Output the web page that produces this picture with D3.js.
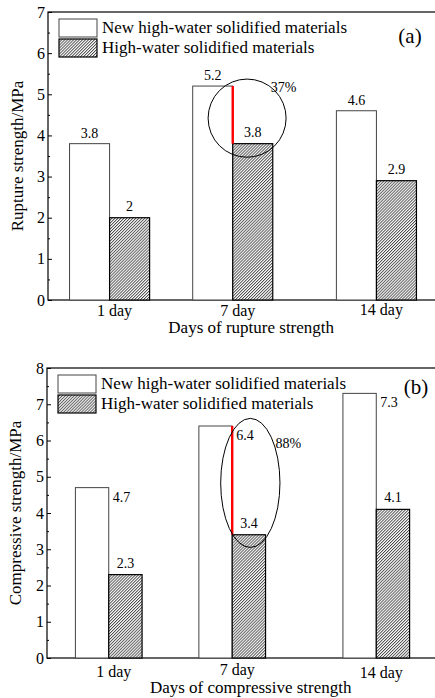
<!DOCTYPE html>
<html>
<head>
<meta charset="utf-8">
<script src="https://cdn.jsdelivr.net/npm/d3@7"></script>
<style>
  body { margin: 0; background: #fff; }
  svg { display: block; font-family: "Liberation Serif", "Times New Roman", serif; }
</style>
</head>
<body>
<svg id="chart" width="435" height="698"></svg>
<script>
// data
const days = [1, 7, 14];
const dayLabels = ["1 day", "7 day", "14 day"];
const seriesNames = ["New high-water solidified materials", "High-water solidified materials"];

const ruptureNew = [3.8, 5.2, 4.6];
const ruptureOld = [2, 3.8, 2.9];
const ruptureTicks = [0, 1, 2, 3, 4, 5, 6, 7];

const compressNew = [4.7, 6.4, 7.3];
const compressOld = [2.3, 3.4, 4.1];
const compressTicks = [0, 1, 2, 3, 4, 5, 6, 7, 8];

const gains = ["37%", "88%"];

const svg = d3.select("#chart");

// hatch pattern
const defs = svg.append("defs");
defs.append("pattern")
  .attr("id", "hatch")
  .attr("patternUnits", "userSpaceOnUse")
  .attr("width", 2.1)
  .attr("height", 10)
  .attr("patternTransform", "rotate(45)")
  .call(p => {
    p.append("rect").attr("width", 2.1).attr("height", 10).attr("fill", "#fff");
    p.append("line").attr("x1", 0.5).attr("x2", 0.5).attr("y1", 0).attr("y2", 10)
      .attr("stroke", "#222").attr("stroke-width", 0.75);
  });

function panel(opt) {
  const x = d3.scaleLinear().domain([-2, 17]).range([opt.left, 438]);
  const y = d3.scaleLinear().domain([0, opt.ymax]).range([opt.bottom, opt.top]);
  const g = svg.append("g");

  // frame
  g.append("rect")
    .attr("x", x(-2)).attr("y", y(opt.ymax))
    .attr("width", x(17) - x(-2)).attr("height", y(0) - y(opt.ymax))
    .attr("fill", "none").attr("stroke", "#000").attr("stroke-width", 1.2);

  // bars
  const bw = opt.barDays;
  g.selectAll(".newbar").data(days).join("rect")
    .attr("x", d => x(d - bw))
    .attr("y", (d, i) => y(opt.newVals[i]))
    .attr("width", x(bw) - x(0))
    .attr("height", (d, i) => y(0) - y(opt.newVals[i]))
    .attr("fill", "#fff").attr("stroke", "#444").attr("stroke-width", 1);
  g.selectAll(".oldbar").data(days).join("rect")
    .attr("x", d => x(d))
    .attr("y", (d, i) => y(opt.oldVals[i]))
    .attr("width", x(bw) - x(0))
    .attr("height", (d, i) => y(0) - y(opt.oldVals[i]))
    .attr("fill", "url(#hatch)").attr("stroke", "#000").attr("stroke-width", 1.2);

  // y axis
  g.append("g")
    .attr("transform", `translate(${x(-2)},0)`)
    .call(d3.axisLeft(y).tickValues(opt.ticks).tickSize(-4).tickPadding(3).tickFormat(d3.format("d")))
    .call(a => a.select(".domain").remove())
    .call(a => a.selectAll("text").attr("font-size", 16).attr("font-family", "Liberation Serif").attr("fill", "#000"));
  g.append("g")
    .attr("transform", `translate(${x(-2)},0)`)
    .call(d3.axisLeft(y).tickValues(opt.ticks.slice(1).map(t => t - 0.5)).tickSize(-2).tickFormat(""))
    .call(a => a.select(".domain").remove());

  // x labels
  g.selectAll(".xlab").data(days).join("text")
    .attr("x", d => x(d) + 5)
    .attr("y", (d, i) => y(0) + opt.xlabDy[i])
    .attr("text-anchor", "middle").attr("font-size", 16)
    .text((d, i) => dayLabels[i]);

  g.append("text")
    .attr("x", x(7.9)).attr("y", y(0) + opt.titleDy)
    .attr("text-anchor", "middle").attr("font-size", 17)
    .text(opt.xTitle);

  g.append("text")
    .attr("transform", `translate(${opt.yTitleX},${(y(0) + y(opt.ymax)) / 2 + opt.yTitleDy}) rotate(-90)`)
    .attr("text-anchor", "middle").attr("font-size", 17)
    .text(opt.yTitle);

  // value labels
  g.selectAll(".vnew").data(days).join("text")
    .attr("x", (d, i) => opt.newRight ? x(d) + 4 : x(d - bw / 2))
    .attr("y", (d, i) => y(opt.newVals[i]) + (opt.newRight ? 14 : -6))
    .attr("text-anchor", opt.newRight ? "start" : "middle")
    .attr("font-size", 14)
    .text((d, i) => opt.newVals[i]);
  g.selectAll(".vold").data(days).join("text")
    .attr("x", d => x(d + bw / 2))
    .attr("y", (d, i) => y(opt.oldVals[i]) - 7)
    .attr("text-anchor", "middle").attr("font-size", 14)
    .text((d, i) => opt.oldVals[i]);

  // gain marker on 7 day
  g.append("line")
    .attr("x1", x(7)).attr("x2", x(7))
    .attr("y1", y(opt.newVals[1])).attr("y2", y(opt.oldVals[1]))
    .attr("stroke", "#f00").attr("stroke-width", 2.4);
  g.append("ellipse")
    .attr("cx", x(opt.ell[0])).attr("cy", y(opt.ell[1]))
    .attr("rx", x(opt.ell[2]) - x(0)).attr("ry", y(0) - y(opt.ell[3]))
    .attr("fill", "none").attr("stroke", "#000").attr("stroke-width", 1);
  g.append("text")
    .attr("x", x(opt.gainPos[0])).attr("y", y(opt.gainPos[1]))
    .attr("font-size", 14)
    .text(opt.gain);

  // legend
  const lx = x(-2) + 11, ly = y(opt.ymax) + 7;
  seriesNames.forEach((name, i) => {
    g.append("rect")
      .attr("x", lx).attr("y", ly + i * 20)
      .attr("width", 38).attr("height", 18)
      .attr("fill", i ? "url(#hatch)" : "#fff")
      .attr("stroke", i ? "#000" : "#444").attr("stroke-width", i ? 1.2 : 1);
    g.append("text")
      .attr("x", lx + 43).attr("y", ly + i * 20 + 14)
      .attr("font-size", 17)
      .text(name);
  });

  g.append("text")
    .attr("x", opt.tagX).attr("y", y(opt.ymax) + opt.tagDy)
    .attr("text-anchor", "middle").attr("font-size", 21)
    .text(opt.tag);
}

panel({
  left: 48, top: 12, bottom: 300, ymax: 7, ticks: ruptureTicks,
  newVals: ruptureNew, oldVals: ruptureOld, barDays: 1.95, newRight: false,
  xTitle: "Days of rupture strength", yTitle: "Rupture strength/MPa",
  yTitleX: 23, yTitleDy: 0, xlabDy: [16, 16, 15], titleDy: 33,
  ell: [7.7, 4.42, 1.9, 0.95], gain: gains[0], gainPos: [8.85, 5.05],
  tag: "(a)", tagX: 410, tagDy: 31
});

panel({
  left: 47, top: 368, bottom: 658, ymax: 8, ticks: compressTicks,
  newVals: compressNew, oldVals: compressOld, barDays: 1.62, newRight: true,
  xTitle: "Days of compressive strength", yTitle: "Compressive strength/MPa",
  yTitleX: 21, yTitleDy: 0, xlabDy: [19, 17, 20], titleDy: 35,
  ell: [7.88, 4.83, 1.44, 1.78], gain: gains[1], gainPos: [9.1, 5.8],
  tag: "(b)", tagX: 416, tagDy: 26
});
</script>
</body>
</html>
